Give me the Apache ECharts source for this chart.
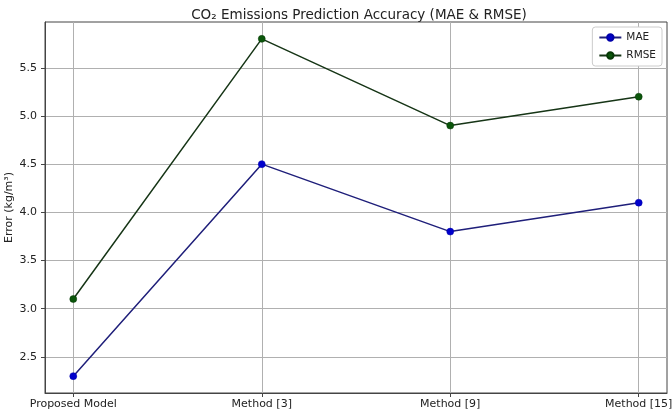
<!DOCTYPE html>
<html><head><meta charset="utf-8">
<script src="https://cdn.jsdelivr.net/npm/echarts@6/dist/echarts.min.js"></script>
<style>html,body{margin:0;padding:0;background:#fff}#c{width:672px;height:416px}</style>
</head><body><div id="c"></div>
<script>
const categories = ['Proposed Model', 'Method [3]', 'Method [9]', 'Method [15]'];
const maeValues = [2.3, 4.5, 3.8, 4.1];
const rmseValues = [3.1, 5.8, 4.9, 5.2];
const yTicks = [2.5, 3.0, 3.5, 4.0, 4.5, 5.0, 5.5];
const xTicks = [0, 1, 2, 3];

const font = 'DejaVu Sans';
const chart = echarts.init(document.getElementById('c'));
chart.setOption({
  animation: false,
  backgroundColor: '#fff',
  title: {
    text: 'CO₂ Emissions Prediction Accuracy (MAE & RMSE)',
    left: 354, top: 3, textAlign: 'center',
    textStyle: { fontFamily: font, fontSize: 13.5, fontWeight: 'normal', color: '#222' }
  },
  legend: {
    right: 10, top: 27, orient: 'vertical',
    itemWidth: 22, itemHeight: 8, itemGap: 7,
    padding: [5, 6, 5, 6],
    borderColor: '#ccc', borderWidth: 1, borderRadius: 3,
    backgroundColor: '#fff',
    textStyle: { fontFamily: font, fontSize: 10.5, color: '#222' },
    data: ['MAE', 'RMSE']
  },
  grid: { left: 45, right: 5, top: 22, bottom: 23, containLabel: false, outerBoundsMode: 'none',
          show: true, borderColor: '#444', borderWidth: 1, backgroundColor: 'transparent' },
  xAxis: {
    type: 'value', min: -0.15, max: 3.15,
    axisLine: { show: true, onZero: false, lineStyle: { color: '#444', width: 1 } },
    axisTick: { show: true, customValues: xTicks, length: 4, lineStyle: { color: '#444' } },
    axisLabel: {
      customValues: xTicks, fontFamily: font, fontSize: 11, color: '#222', margin: 6,
      formatter: v => categories[Math.round(v)]
    },
    splitLine: { show: true, lineStyle: { color: '#b0b0b0', width: 1 } }
  },
  yAxis: {
    type: 'value', min: 2.125, max: 5.975,
    name: 'Error (kg/m³)', nameLocation: 'middle', nameGap: 30, nameMoveOverlap: false,
    nameTextStyle: { fontFamily: font, fontSize: 11, color: '#222' },
    axisLine: { show: true, onZero: false, lineStyle: { color: '#444', width: 1 } },
    axisTick: { show: true, customValues: yTicks, length: 4, lineStyle: { color: '#444' } },
    axisLabel: {
      customValues: yTicks, fontFamily: font, fontSize: 11, color: '#222', margin: 8,
      formatter: v => v.toFixed(1)
    },
    splitLine: { show: true, lineStyle: { color: '#b0b0b0', width: 1 } }
  },
  series: [
    {
      name: 'MAE', type: 'line',
      data: maeValues.map((v, i) => [i, v]),
      symbol: 'circle', symbolSize: 7,
      lineStyle: { color: '#1f1f7a', width: 1.5 },
      itemStyle: { color: '#0000cc', borderColor: '#0000aa', borderWidth: 0.5 },
      z: 3
    },
    {
      name: 'RMSE', type: 'line',
      data: rmseValues.map((v, i) => [i, v]),
      symbol: 'circle', symbolSize: 7,
      lineStyle: { color: '#163516', width: 1.5 },
      itemStyle: { color: '#0b560b', borderColor: '#063806', borderWidth: 0.5 },
      z: 3
    }
  ]
});
</script></body></html>
